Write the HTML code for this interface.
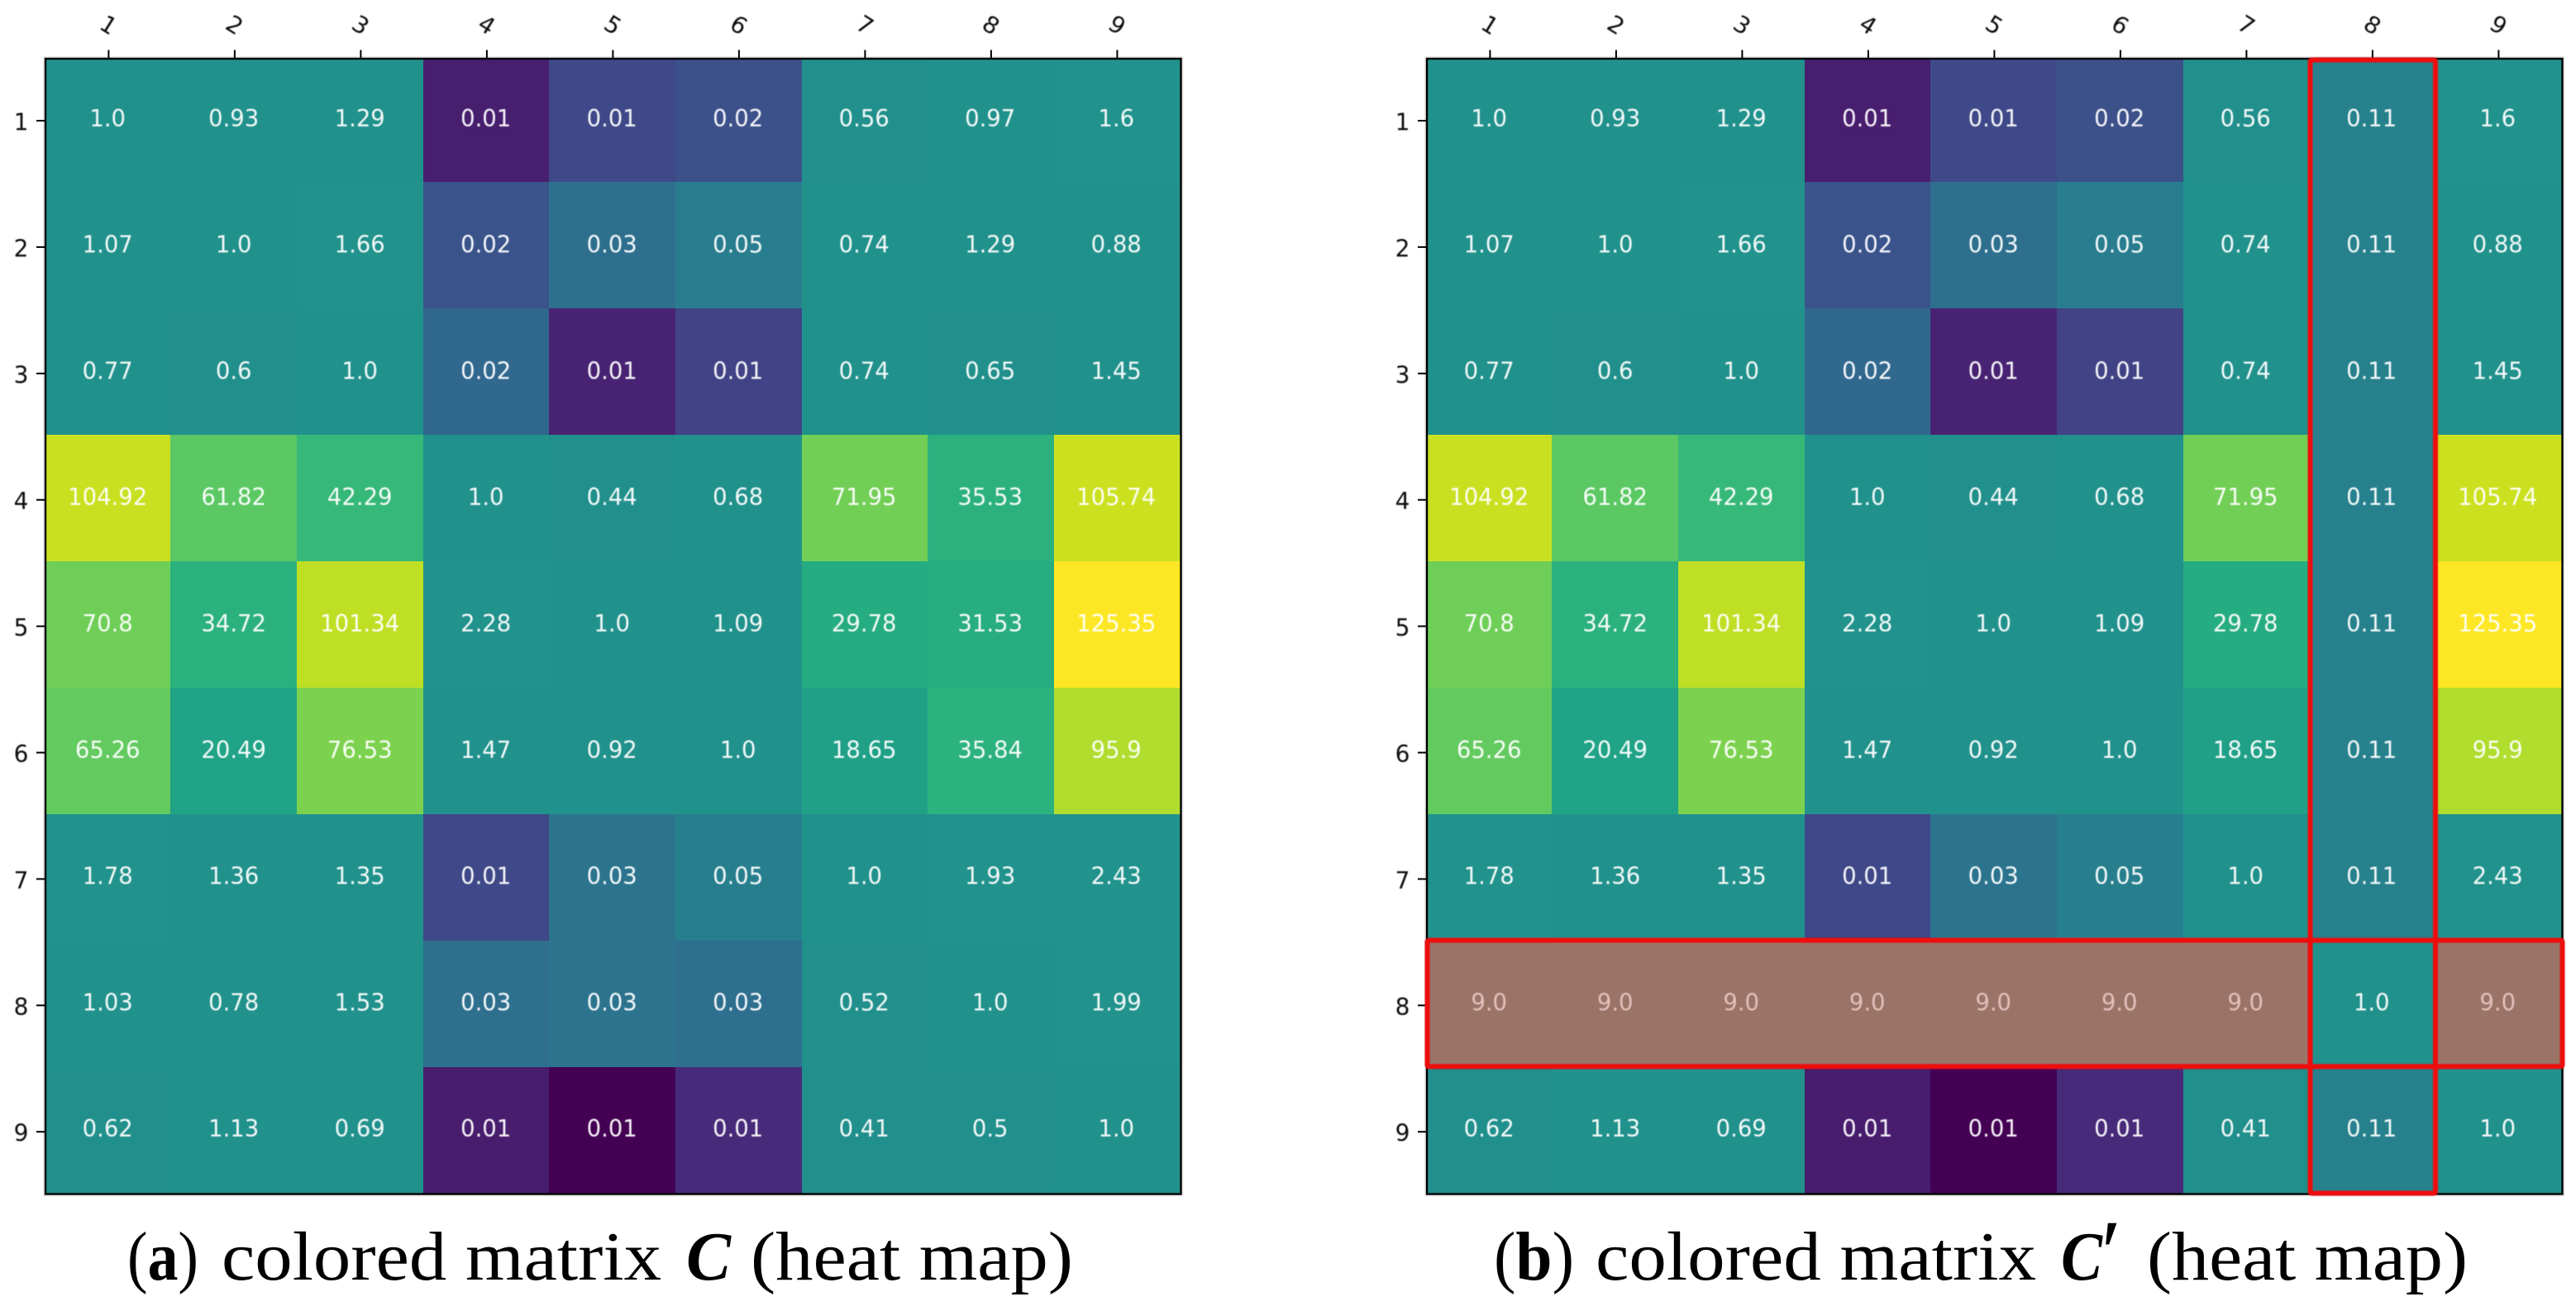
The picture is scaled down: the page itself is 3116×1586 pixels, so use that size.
<!DOCTYPE html>
<html lang="en">
<head>
<meta charset="utf-8">
<title>Colored matrices C and C' heat maps</title>
<style>
html,body{margin:0;padding:0;background:#fff;}
svg{display:block;}
.val{font-family:"DejaVu Sans",sans-serif;font-size:27.5px;text-anchor:middle;fill-opacity:0.94;}
.tick{font-family:"DejaVu Sans",sans-serif;font-size:28px;fill:#111;text-anchor:middle;}
.cap{font-family:"Liberation Serif",serif;font-size:84px;fill:#000;}
</style>
</head>
<body>
<svg id="figure" xmlns="http://www.w3.org/2000/svg" width="3116" height="1586" viewBox="0 0 3116 1586">
  <rect x="0" y="0" width="3116" height="1586" fill="#ffffff"/>
  <defs>
    <clipPath id="plot-clip"><rect x="55" y="71" width="1373.5" height="1373"/></clipPath>
    <filter id="soft" x="-2%" y="-2%" width="104%" height="104%"><feGaussianBlur stdDeviation="0.45"/></filter>
  </defs>
  <g id="panel-a"></g>
  <g id="panel-b"></g>

  <g fill="none" stroke="#ee080b" stroke-width="6" filter="url(#soft)">
    <rect x="2794.5" y="72.5" width="151.5" height="1371" rx="2"/>
    <rect x="1726.5" y="1137.5" width="1373" height="152.8" rx="2"/>
  </g>

  <g>
    <text class="cap" x="154" y="1548" textLength="86" lengthAdjust="spacingAndGlyphs">(<tspan font-weight="bold">a</tspan>)</text>
    <text class="cap" x="268" y="1548" textLength="532" lengthAdjust="spacingAndGlyphs">colored matrix</text>
    <text class="cap" x="830" y="1548" font-weight="bold" font-style="italic" textLength="54" lengthAdjust="spacingAndGlyphs">C</text>
    <text class="cap" x="908" y="1548" textLength="390" lengthAdjust="spacingAndGlyphs">(heat map)</text>
  </g>
  <g>
    <text class="cap" x="1807" y="1548" textLength="97" lengthAdjust="spacingAndGlyphs">(<tspan font-weight="bold">b</tspan>)</text>
    <text class="cap" x="1930" y="1548" textLength="533" lengthAdjust="spacingAndGlyphs">colored matrix</text>
    <text class="cap" x="2493" y="1548" font-weight="bold" font-style="italic" textLength="50" lengthAdjust="spacingAndGlyphs">C</text>
    <text class="cap" x="2535" y="1552" font-style="italic" style="font-size:110px">′</text>
    <text class="cap" x="2597" y="1548" textLength="388" lengthAdjust="spacingAndGlyphs">(heat map)</text>
  </g>
</svg>

<script>
const tickLabels = ['1','2','3','4','5','6','7','8','9'];

const matrixC = [
  [1.0,    0.93,   1.29,   0.00953, 0.0141, 0.0153, 0.56,   0.97,   1.6],
  [1.07,   1.0,    1.66,   0.01618, 0.0288, 0.0488, 0.74,   1.29,   0.88],
  [0.77,   0.6,    1.0,    0.02365, 0.00987,0.01307,0.74,   0.65,   1.45],
  [104.92, 61.82,  42.29,  1.0,     0.44,   0.68,   71.95,  35.53,  105.74],
  [70.8,   34.72,  101.34, 2.28,    1.0,    1.09,   29.78,  31.53,  125.35],
  [65.26,  20.49,  76.53,  1.47,    0.92,   1.0,    18.65,  35.84,  95.9],
  [1.78,   1.36,   1.35,   0.0139,  0.0336, 0.0536, 1.0,    1.93,   2.43],
  [1.03,   0.78,   1.53,   0.0281,  0.0317, 0.0279, 0.52,   1.0,    1.99],
  [0.62,   1.13,   0.69,   0.00946, 0.00798,0.0104, 0.41,   0.5,    1.0]
];

const matrixCPrime = [
  [1.0,    0.93,   1.29,   0.00953, 0.0141, 0.0153, 0.56,   0.1111, 1.6],
  [1.07,   1.0,    1.66,   0.01618, 0.0288, 0.0488, 0.74,   0.1111, 0.88],
  [0.77,   0.6,    1.0,    0.02365, 0.00987,0.01307,0.74,   0.1111, 1.45],
  [104.92, 61.82,  42.29,  1.0,     0.44,   0.68,   71.95,  0.1111, 105.74],
  [70.8,   34.72,  101.34, 2.28,    1.0,    1.09,   29.78,  0.1111, 125.35],
  [65.26,  20.49,  76.53,  1.47,    0.92,   1.0,    18.65,  0.1111, 95.9],
  [1.78,   1.36,   1.35,   0.0139,  0.0336, 0.0536, 1.0,    0.1111, 2.43],
  [9.0,    9.0,    9.0,    9.0,     9.0,    9.0,    9.0,    1.0,    9.0],
  [0.62,   1.13,   0.69,   0.00946, 0.00798,0.0104, 0.41,   0.1111, 1.0]
];

const viridis = ['#440154','#471365','#482475','#463480','#414487','#3b528b','#355f8d','#2f6c8e','#2a788e','#25848e','#21918c','#1e9c89','#22a884','#2fb47c','#44bf70','#5ec962','#7ad151','#9bd93c','#bddf26','#dfe318','#fde725'];

const NS = 'http://www.w3.org/2000/svg';
const highlightIndex = 7;

function make(tag, attrs, parent) {
  const el = document.createElementNS(NS, tag);
  for (const k in attrs) el.setAttribute(k, attrs[k]);
  parent.appendChild(el);
  return el;
}

function hexToRgb(h) {
  return [parseInt(h.slice(1,3),16), parseInt(h.slice(3,5),16), parseInt(h.slice(5,7),16)];
}
function viridisColor(t) {
  const c = Math.max(0, Math.min(1, t)) * (viridis.length - 1);
  const i = Math.min(viridis.length - 2, Math.floor(c));
  const f = c - i;
  const a = hexToRgb(viridis[i]), b = hexToRgb(viridis[i+1]);
  return 'rgb(' + [0,1,2].map(k => Math.round(a[k] + (b[k]-a[k])*f)).join(',') + ')';
}
/* reciprocal-symmetric colour norm: ratios above 1 and their inverses mirror around t = 0.5 */
function norm(v, maxV) {
  const span = maxV - 1;
  return v >= 1 ? 0.5 + 0.5*(v-1)/span : 0.5 - 0.5*(1/v-1)/span;
}
function formatValue(v) {
  const r = Number(v.toFixed(2));
  return Number.isInteger(r) ? r.toFixed(1) : String(r);
}

/* axis functions */
function xEdge(i) { return Math.round(53.5 + 152.7*i); }
function yEdge(i) { return Math.round(67.4 + 152.9*i); }
function xCenter(i) { return 131.4 + 152.5*i; }
function yText(i) { return 143.8 + 152.8*i; }
function yTick(i) { return 146 + 152.9*i; }

function drawPanel(rootId, matrix, isB) {
  const root = document.getElementById(rootId);
  const dx = isB ? 1671 : 0;
  const maxV = Math.max.apply(null, matrix.flat());
  const plot = make('g', {transform:'translate(' + dx + ',0)'}, root);

  const halo = make('rect', {x:55, y:71, width:1373.5, height:1373.5, fill:'none', stroke:'#e9e9e9', 'stroke-width':6}, plot);
  
  

  const cells = make('g', {'clip-path':'url(#plot-clip)'}, plot);
  const labels = make('g', {filter:'url(#soft)'}, plot);

  matrix.forEach((row, r) => {
    row.forEach((v, c) => {
      const x0 = xEdge(c), x1 = xEdge(c+1), y0 = yEdge(r), y1 = yEdge(r+1);
      const cell = make('rect', {x:x0, y:y0, width:x1-x0, height:y1-y0, fill:viridisColor(norm(v, maxV))}, cells);
      
      

      const inRow = isB && r === highlightIndex && c !== highlightIndex;
      const inCol = isB && c === highlightIndex && r !== highlightIndex;
      if (inRow) {
        const tint = make('rect', {x:x0, y:y0, width:x1-x0, height:y1-y0, fill:'rgba(239,92,81,0.6)'}, cells);
        
        
      }
      if (inCol) {
        const shade = make('rect', {x:x0, y:y0, width:x1-x0, height:y1-y0, fill:'rgba(50,100,145,0.2)'}, cells);
        
        
      }

      const cy = yText(r);
      const t = make('text', {'class':'val', x:xCenter(c) - 1.2, y:0,
        transform:'translate(0,' + (cy + 9.0) + ') scale(1,1.03)',
        fill: inRow ? '#e8c6bf' : '#ffffff'}, labels);
      t.textContent = formatValue(v);
      
      
    });
  });

  /* frame */
  const frame = make('rect', {x:55, y:71, width:1373.5, height:1373.5, fill:'none', stroke:'#000', 'stroke-width':2.4}, plot);
  
  

  /* ticks */
  tickLabels.forEach((lab, i) => {
    const tx = xCenter(i), ty = yTick(i);
    const xt = make('line', {x1:tx, x2:tx, y1:60.5, y2:71, stroke:'#000', 'stroke-width':2}, plot);
    
    
    const yt = make('line', {x1:44, x2:55, y1:ty, y2:ty, stroke:'#000', 'stroke-width':2}, plot);
    
    

    const xl = make('text', {'class':'tick', x:0, y:10, transform:'translate(' + tx + ',30) rotate(32)'}, labels);
    xl.textContent = lab;
    
    
    const yl = make('text', {'class':'tick', x:25.5, y:0, transform:'translate(0,' + (ty + 11.5) + ') scale(1,1.03)'}, labels);
    yl.textContent = lab;
    
    
  });
}

drawPanel('panel-a', matrixC, false);
drawPanel('panel-b', matrixCPrime, true);
</script>
</body>
</html>
